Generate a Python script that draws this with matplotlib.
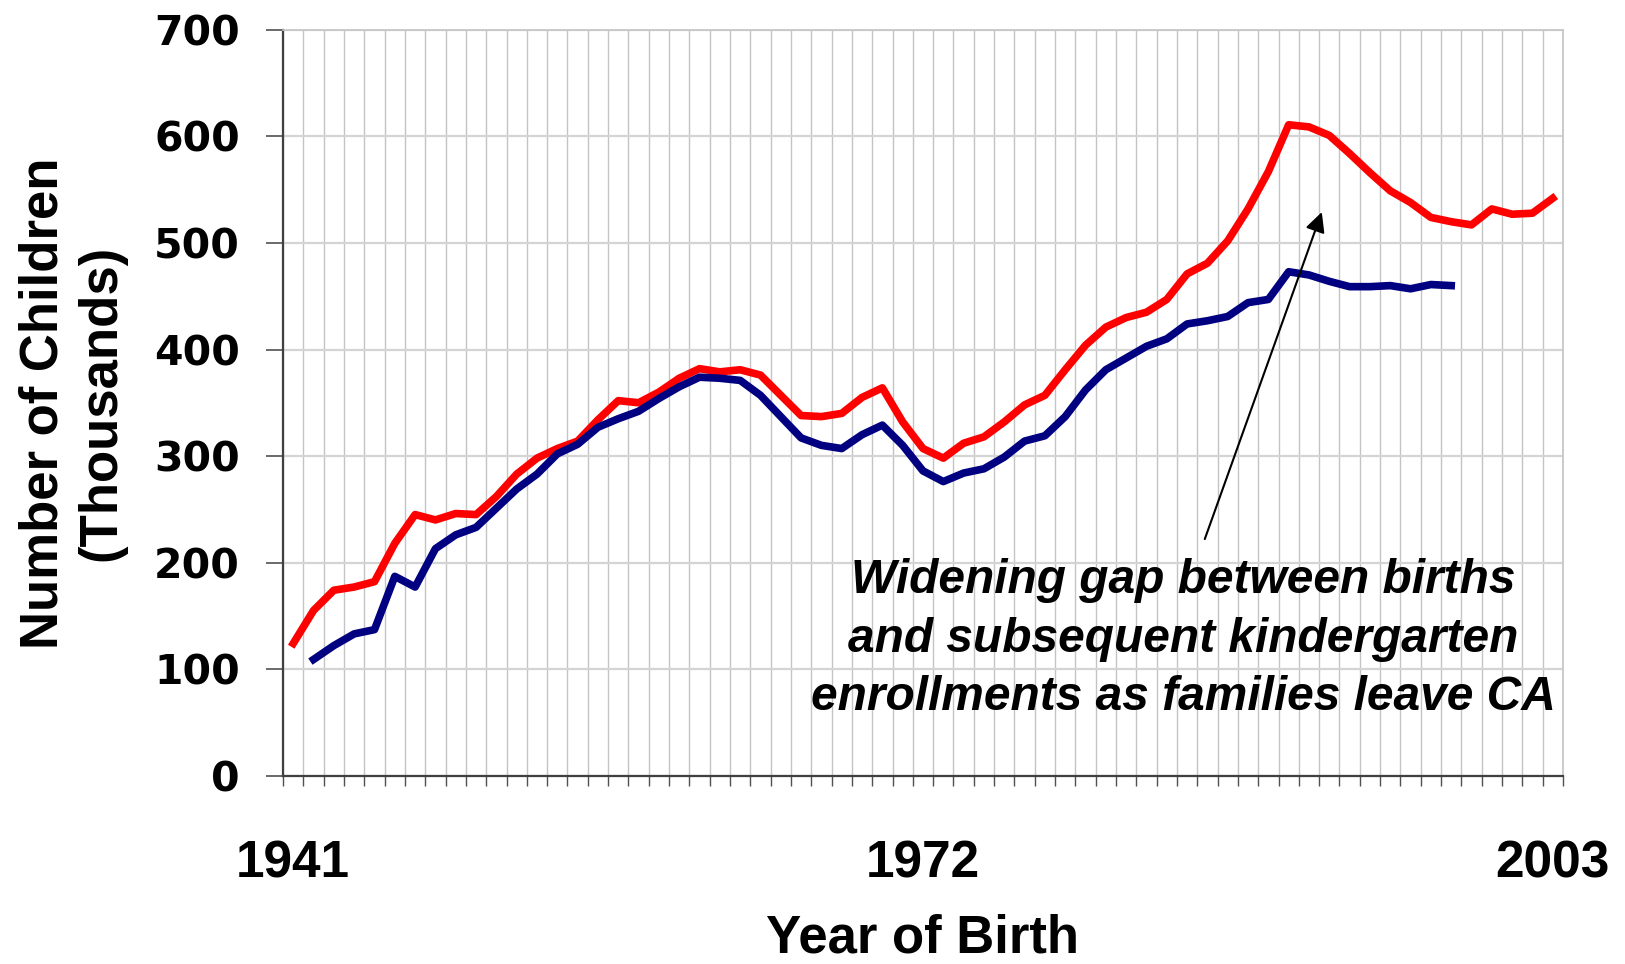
import numpy as np
import matplotlib
matplotlib.use("Agg")
import matplotlib.pyplot as plt
from matplotlib.ticker import FixedLocator

# births (red) and kindergarten enrollments (navy), thousands
birth_years = list(range(1941, 2004))
births = [124, 155, 174, 177, 182, 218, 245, 240, 246, 245,
          262, 283, 298, 307, 314, 334, 352, 350, 360, 373,
          382, 379, 381, 376, 357, 338, 337, 340, 355, 364,
          332, 307, 298, 312, 318, 332, 348, 357, 381, 404,
          421, 430, 435, 447, 471, 481, 502, 532, 567, 611,
          609, 601, 584, 566, 549, 538, 524, 520, 517, 532,
          527, 528, 542]

kinder_years = list(range(1942, 1999))
kinder = [109, 122, 133, 137, 187, 177, 213, 226, 233, 251,
          269, 283, 302, 311, 327, 335, 342, 354, 365, 374,
          373, 371, 357, 337, 317, 310, 307, 320, 329, 310,
          286, 276, 284, 288, 299, 314, 319, 337, 362, 381,
          392, 403, 410, 424, 427, 431, 444, 447, 473, 470,
          464, 459, 459, 460, 457, 461, 460]

x_labels = [1941, 1972, 2003]
y_ticks = [0, 100, 200, 300, 400, 500, 600, 700]

note = ("Widening gap between births\n"
        "and subsequent kindergarten\n"
        "enrollments as families leave CA")

plt.rcParams["font.family"] = ["Liberation Sans", "DejaVu Sans"]
plt.rcParams["font.weight"] = "bold"

fig = plt.figure(figsize=(16.25, 9.64), dpi=100)
ax = fig.add_axes([0.1742, 0.1955, 0.7876, 0.7734])

ax.plot(birth_years, births, color="#ff0000", lw=5.5, zorder=3)
ax.plot(kinder_years, kinder, color="#000080", lw=5.5, zorder=3)

ax.set_xlim(1940.5, 2003.5)
ax.set_ylim(0, 700)

# category gridlines between years
ax.xaxis.set_major_locator(FixedLocator(x_labels))
ax.xaxis.set_minor_locator(FixedLocator(np.arange(1940.5, 2004, 1.0)))
ax.set_xticklabels([str(v) for v in x_labels], fontsize=37, fontweight="bold")
ax.tick_params(axis="x", which="major", length=0, pad=46)
ax.tick_params(axis="x", which="minor", direction="out", length=7,
               width=1.0, color="#505050")
ax.grid(True, axis="x", which="minor", color="#c4c4c4", lw=1.0)

ax.yaxis.set_major_locator(FixedLocator(y_ticks))
ax.set_yticklabels([str(v) for v in y_ticks], fontsize=29.5,
                   fontweight="bold", family="DejaVu Sans")
ax.tick_params(axis="y", which="major", direction="out", length=12,
               width=1.2, color="#505050", pad=19)
ax.grid(True, axis="y", which="major", color="#d4d4d4", lw=1.6)
ax.set_axisbelow(True)

for side in ["left", "bottom"]:
    ax.spines[side].set_color("#404040")
    ax.spines[side].set_linewidth(1.6)
for side in ["top", "right"]:
    ax.spines[side].set_color("#c4c4c4")
    ax.spines[side].set_linewidth(1.2)

ax.set_xlabel("Year of Birth", fontsize=38, fontweight="bold", va="center")
ax.xaxis.set_label_coords(0.5, -0.218)
ax.set_ylabel("Number of Children\n(Thousands)", fontsize=38,
              fontweight="bold", va="center", linespacing=1.2)
ax.yaxis.set_label_coords(-0.1645, 0.5)

ax.text(1984.8, 128, note, fontsize=34.5, fontweight="bold", style="italic",
        ha="center", va="center", multialignment="center", linespacing=1.38)
ax.annotate("", xy=(1991.63, 529), xytext=(1985.87, 222),
            arrowprops=dict(arrowstyle="-|>", color="black", lw=1.5,
                            mutation_scale=30, shrinkA=0, shrinkB=0))

fig.savefig("out.png", dpi=100)
